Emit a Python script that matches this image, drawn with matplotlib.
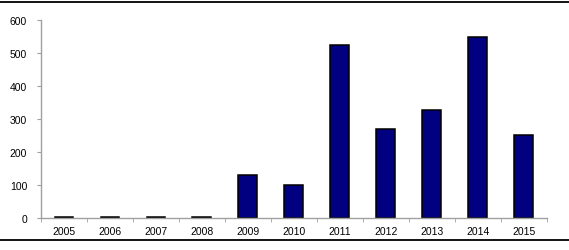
import matplotlib
matplotlib.use('Agg')
import matplotlib.pyplot as plt
from matplotlib.lines import Line2D

plt.rcParams['font.family'] = ['Liberation Sans', 'DejaVu Sans']

# data
years = ['2005', '2006', '2007', '2008', '2009', '2010',
         '2011', '2012', '2013', '2014', '2015']
values = [2, 2, 2, 2, 130, 100, 525, 270, 327, 550, 251]

fig = plt.figure(figsize=(5.69, 2.51), dpi=100)
ax = fig.add_axes([0.072, 0.1275, 0.889, 0.7885])

x = range(len(years))
ax.bar(x, values, width=0.41, color='#000080', edgecolor='black', linewidth=1.1)

ax.set_xlim(-0.5, len(years) - 0.5)
ax.set_ylim(0, 600)
ax.set_yticks(range(0, 601, 100))
ax.set_xticks(list(x))
ax.set_xticklabels(years)
ax.set_xticks([i - 0.5 for i in range(len(years) + 1)], minor=True)

gray = '#a0a0a0'
for s in ['top', 'right']:
    ax.spines[s].set_visible(False)
for s in ['left', 'bottom']:
    ax.spines[s].set_color(gray)
    ax.spines[s].set_linewidth(1.0)

ax.tick_params(axis='x', which='major', length=0, pad=6, labelsize=7.5)
ax.tick_params(axis='x', which='minor', length=3, color=gray, direction='out')
ax.tick_params(axis='y', length=3, color=gray, direction='out', pad=7, labelsize=7.5)

# frame lines at top and bottom of the picture
fig.add_artist(Line2D([0, 1], [1 - 2.5 / 251, 1 - 2.5 / 251], color='black', lw=1.3))
fig.add_artist(Line2D([0, 1], [1 - 241 / 251, 1 - 241 / 251], color='black', lw=1.3))

fig.savefig('out.png', dpi=100)
